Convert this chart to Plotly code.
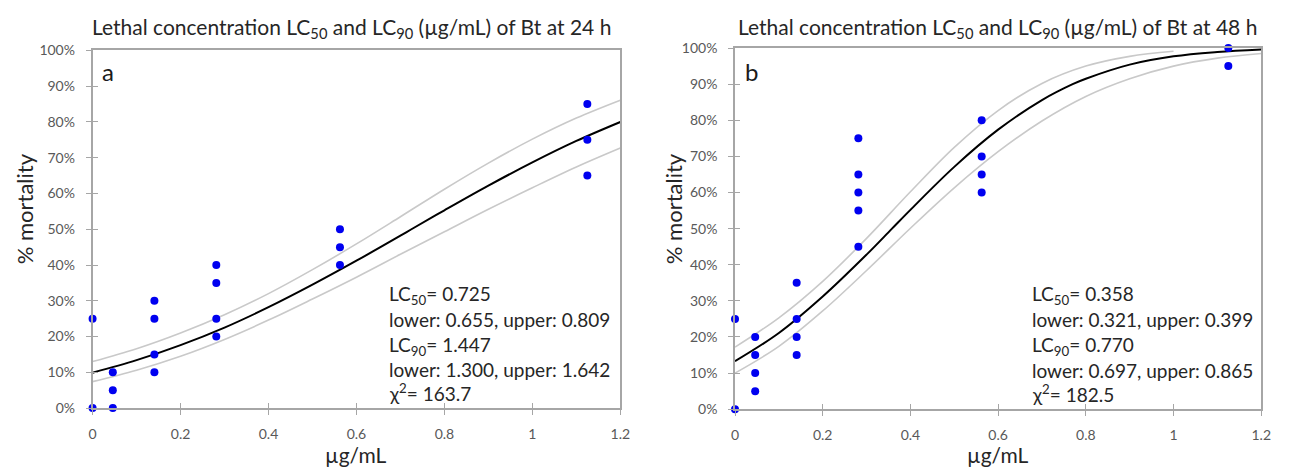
import plotly.graph_objects as go

# Bt concentrations tested (µg/mL)
conc = [0, 0.046, 0.1406, 0.2813, 0.5625, 1.125]

# Observed % mortality per replicate at each concentration
mort_24h = [[0, 25], [0, 5, 10], [10, 15, 25, 30], [20, 25, 35, 40], [40, 45, 50], [65, 75, 85]]
mort_48h = [[0, 25], [5, 10, 15, 20], [15, 20, 25, 35], [45, 55, 60, 65, 75], [60, 65, 70, 80], [95, 100]]

# Fitted probit curves and confidence bands (% mortality vs µg/mL)
fit24_x = [0, 0.1, 0.2, 0.3, 0.4, 0.5, 0.6, 0.7, 0.725, 0.8, 0.9, 1.0, 1.1, 1.2]
fit24_y = [9.9, 13.4, 17.6, 22.5, 28.2, 34.5, 41.2, 48.2, 50.0, 55.3, 62.2, 68.7, 74.7, 80.0]
band24_x = [0, 0.1, 0.2, 0.3, 0.4, 0.5, 0.6, 0.7, 0.8, 0.9, 1.0, 1.1, 1.2]
upper24_y = [13.0, 16.6, 21.0, 26.1, 32.0, 38.7, 45.9, 53.5, 61.2, 68.5, 75.2, 81.1, 86.1]
lower24_y = [7.4, 10.6, 14.5, 19.2, 24.6, 30.5, 36.6, 43.0, 49.3, 55.6, 61.6, 67.4, 72.7]

fit48_x = [0, 0.1, 0.2, 0.3, 0.358, 0.4, 0.5, 0.6, 0.7, 0.77, 0.8, 0.9, 1.0, 1.1, 1.2]
fit48_y = [13.3, 21.1, 31.2, 42.8, 50.0, 55.2, 67.1, 77.4, 85.6, 90.0, 91.5, 95.4, 97.7, 98.9, 99.6]
upper48_x = [0, 0.1, 0.2, 0.3, 0.4, 0.5, 0.6, 0.7, 0.8, 0.9, 1.0]
upper48_y = [17.2, 25.3, 35.4, 47.3, 60.2, 72.5, 82.7, 90.2, 95.0, 97.7, 99.1]
lower48_x = [0, 0.1, 0.2, 0.3, 0.4, 0.5, 0.6, 0.7, 0.8, 0.9, 1.0, 1.1, 1.2]
lower48_y = [10.0, 17.4, 27.2, 38.4, 50.1, 61.3, 71.3, 79.8, 86.6, 91.5, 95.0, 97.2, 98.5]

# Summary statistics shown on each panel
stats_24h = ["LC<sub>50</sub>= 0.725", "lower: 0.655, upper: 0.809",
             "LC<sub>90</sub>= 1.447", "lower: 1.300, upper: 1.642", "χ<sup>2</sup>= 163.7"]
stats_48h = ["LC<sub>50</sub>= 0.358", "lower: 0.321, upper: 0.399",
             "LC<sub>90</sub>= 0.770", "lower: 0.697, upper: 0.865", "χ<sup>2</sup>= 182.5"]

titles = ["Lethal concentration LC<sub>50</sub> and LC<sub>90</sub> (µg/mL) of Bt at 24 h",
          "Lethal concentration LC<sub>50</sub> and LC<sub>90</sub> (µg/mL) of Bt at 48 h"]
panel_letters = ["a", "b"]

x_ticks = [0, 0.2, 0.4, 0.6, 0.8, 1.0, 1.2]
x_ticktext = ["0", "0.2", "0.4", "0.6", "0.8", "1", "1.2"]
y_ticks = list(range(0, 101, 10))
y_ticktext = [f"{v}%" for v in y_ticks]

FONT = "Lato, 'Open Sans', sans-serif"
AXIS_GREY = "#a6a6a6"
BAND_GREY = "#c9c9c9"
DOT_BLUE = "#0000f0"
W, H = 1294, 471

fig = go.Figure()


def flatten(xs, groups):
    px, py = [], []
    for x, vals in zip(xs, groups):
        for v in vals:
            px.append(x)
            py.append(v)
    return px, py


def add_panel(xa, ya, groups, fx, fy, ux, uy, lx, ly):
    common = dict(xaxis=xa, yaxis=ya, showlegend=False, hoverinfo="skip", cliponaxis=False)
    fig.add_trace(go.Scatter(x=ux, y=uy, mode="lines", line=dict(color=BAND_GREY, width=1.6, shape="spline"), **common))
    fig.add_trace(go.Scatter(x=lx, y=ly, mode="lines", line=dict(color=BAND_GREY, width=1.6, shape="spline"), **common))
    fig.add_trace(go.Scatter(x=fx, y=fy, mode="lines", line=dict(color="black", width=2, shape="spline"), **common))
    px, py = flatten(conc, groups)
    fig.add_trace(go.Scatter(x=px, y=py, mode="markers", marker=dict(color=DOT_BLUE, size=8), **common))


add_panel("x", "y", mort_24h, fit24_x, fit24_y, band24_x, upper24_y, band24_x, lower24_y)
add_panel("x2", "y2", mort_48h, fit48_x, fit48_y, upper48_x, upper48_y, lower48_x, lower48_y)

# empty traces so the inside-tick overlay axes get drawn
fig.add_trace(go.Scatter(x=[], y=[], xaxis="x3", yaxis="y3", showlegend=False, hoverinfo="skip"))
fig.add_trace(go.Scatter(x=[], y=[], xaxis="x4", yaxis="y4", showlegend=False, hoverinfo="skip"))

xdom = [[0.0692, 0.4815], [0.5711, 0.9822]]
ydom = [[0.121, 0.9087], [0.1185, 0.914]]

tickfont = dict(family=FONT, size=14, color="#595959")


def xaxis_main(dom, anchor):
    return dict(domain=dom, anchor=anchor, range=[0, 1.2], tickvals=x_ticks, ticktext=x_ticktext,
                ticks="outside", ticklen=5, tickwidth=1.3, tickcolor=AXIS_GREY, showline=True,
                linecolor=AXIS_GREY, linewidth=1.6, mirror=True, showgrid=False, zeroline=False,
                tickfont=tickfont, ticklabelstandoff=7)


def yaxis_main(dom, anchor):
    return dict(domain=dom, anchor=anchor, range=[0, 100], tickvals=y_ticks, ticktext=y_ticktext,
                ticks="outside", ticklen=5, tickwidth=1.3, tickcolor=AXIS_GREY, showline=True,
                linecolor=AXIS_GREY, linewidth=1.6, mirror=True, showgrid=False, zeroline=False,
                tickfont=tickfont, ticklabelstandoff=8)


def xaxis_inner(dom, over, anchor):
    return dict(domain=dom, overlaying=over, anchor=anchor, range=[0, 1.2], tickvals=x_ticks,
                ticks="inside", ticklen=5, tickwidth=1.3, tickcolor=AXIS_GREY, showticklabels=False,
                showline=False, showgrid=False, zeroline=False)


def yaxis_inner(dom, over, anchor):
    return dict(domain=dom, overlaying=over, anchor=anchor, range=[0, 100], tickvals=y_ticks,
                ticks="inside", ticklen=5, tickwidth=1.3, tickcolor=AXIS_GREY, showticklabels=False,
                showline=False, showgrid=False, zeroline=False)


fig.update_layout(
    width=W, height=H,
    margin=dict(l=0, r=0, t=0, b=0),
    paper_bgcolor="white", plot_bgcolor="white",
    font=dict(family=FONT, color="#262626"),
    xaxis=xaxis_main(xdom[0], "y"),
    yaxis=yaxis_main(ydom[0], "x"),
    xaxis2=xaxis_main(xdom[1], "y2"),
    yaxis2=yaxis_main(ydom[1], "x2"),
    xaxis3=xaxis_inner(xdom[0], "x", "y"),
    yaxis3=yaxis_inner(ydom[0], "y", "x"),
    xaxis4=xaxis_inner(xdom[1], "x2", "y2"),
    yaxis4=yaxis_inner(ydom[1], "y2", "x2"),
)

stat_levels = [31.5, 24.8, 17.4, 10.7, 4.3]
panels = [
    dict(xr="x", yr="y", stats=stats_24h, sx=0.6685, lx=0.035, ly=94.0, title_cx=351, ylab_x=21),
    dict(xr="x2", yr="y2", stats=stats_48h, sx=0.672, lx=0.037, ly=93.4, title_cx=1004, ylab_x=677),
]
for i, p in enumerate(panels):
    for line, lv in zip(p["stats"], stat_levels):
        fig.add_annotation(x=p["sx"], y=lv, xref=p["xr"], yref=p["yr"], text=line, showarrow=False,
                           xanchor="left", yanchor="middle",
                           font=dict(family=FONT, size=19, color="#262626"))
    fig.add_annotation(x=p["lx"], y=p["ly"], xref=p["xr"], yref=p["yr"], text=panel_letters[i],
                       showarrow=False, xanchor="center", yanchor="middle",
                       font=dict(family=FONT, size=24, color="#1a1a1a"))
    fig.add_annotation(x=p["title_cx"] / W, y=1 - 20 / H, xref="paper", yref="paper", text=titles[i],
                       showarrow=False, xanchor="center", yanchor="middle",
                       font=dict(family=FONT, size=21, color="#262626"))
    cx = (xdom[i][0] + xdom[i][1]) / 2
    fig.add_annotation(x=cx, y=1 - 462 / H, xref="paper", yref="paper", text="µg/mL",
                       showarrow=False, xanchor="center", yanchor="middle", borderpad=0,
                       font=dict(family=FONT, size=21, color="#262626"))
    fig.add_annotation(x=p["ylab_x"] / W, y=1 - 207 / H, xref="paper", yref="paper",
                       text="% mortality", showarrow=False, textangle=-90,
                       xanchor="center", yanchor="middle",
                       font=dict(family=FONT, size=22, color="#262626"))

fig.write_html("out.html")
